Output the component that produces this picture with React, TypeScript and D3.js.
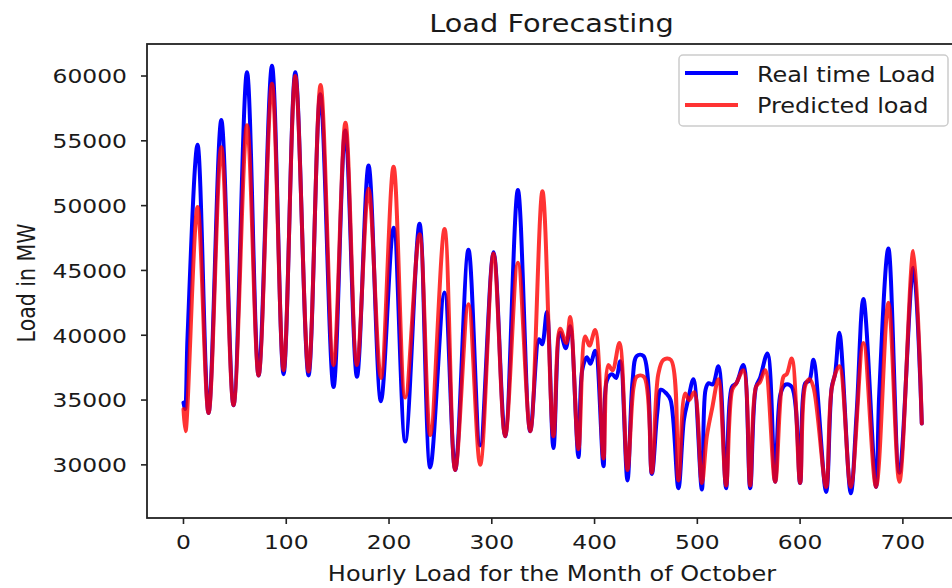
import React from "react";
import * as d3 from "d3";

// ---- Data ----
// [hour, load MW] key points of the real-time load
const realLoadPoints: [number, number][] = [
  [0, 34800], [1.5, 34300], [4, 40000], [13.7, 54700],
  [24.4, 34000], [36.8, 56600],
  [48.7, 34600], [61.8, 60300],
  [73.1, 36900], [86.1, 60800],
  [97.4, 37000], [108.8, 60300],
  [121.7, 36900], [133.1, 58600],
  [146, 36000], [157.4, 55800],
  [168.8, 36800], [180.1, 53100],
  [192.1, 34900], [204.4, 48300],
  [215.8, 31800], [229.7, 48600],
  [240.1, 29800], [254, 43300],
  [264.4, 29600], [277.3, 46600],
  [288.7, 31500], [301.7, 46400],
  [313, 32200], [325.4, 51200],
  [337.4, 32600], [346, 39700], [349, 39300], [353.6, 41800],
  [360, 31300], [366.5, 40200], [372, 39000], [376.3, 40700],
  [384.3, 30600], [388, 37300], [392.5, 38300], [396, 37800], [400.6, 38800],
  [408.7, 29900], [412, 36500], [417, 37000], [421, 36700], [425, 38000],
  [432, 28800], [437, 36500], [441.1, 38400], [447.6, 38400],
  [455.7, 29300], [461, 34000], [464.5, 35800], [470, 35500], [474, 35000],
  [481.6, 28200], [487, 33500], [491, 35000], [496.2, 36600],
  [504.4, 28100], [508, 35800], [511, 36300], [515, 36200], [520.5, 37600],
  [528, 28200], [533.6, 36000], [538, 36300], [544.8, 37700],
  [551.4, 28200], [557, 36000], [561, 36700], [568.2, 38600],
  [575.7, 28700], [581, 35500], [586, 36200], [592, 36000],
  [600, 28600], [604.9, 36300], [609, 36500], [613, 38100],
  [625.3, 27900], [630.8, 36000], [634, 37000], [638.2, 40200],
  [649.3, 27800], [655, 34000], [661.6, 42800],
  [673.9, 28300], [677, 35500], [685.9, 46700],
  [696.6, 29400], [710.2, 45200], [718.4, 33200],
];

// [hour, load MW] key points of the predicted load
const predictedLoadPoints: [number, number][] = [
  [0, 34300], [2, 32600], [13.7, 49900],
  [24.4, 34000], [36.8, 54500],
  [48.7, 34600], [61.8, 56200],
  [73.1, 36900], [86.1, 59400],
  [97.4, 37300], [108.8, 60000],
  [121.7, 37200], [133.4, 59300],
  [146, 37700], [157.6, 56400],
  [168.8, 37700], [180.1, 51300],
  [192.1, 36700], [204.4, 53000],
  [215.8, 35200], [229.7, 47800],
  [240.1, 32300], [254, 48200],
  [264.4, 29600], [277.3, 42400],
  [288.7, 30000], [301.7, 46300],
  [313, 32200], [325.4, 45600],
  [337.4, 32600], [349.3, 51100],
  [360, 32200], [366.5, 40500], [372.4, 39400], [376.3, 41400],
  [384.3, 31200], [390.9, 39900], [395, 39200], [400.6, 40400],
  [408.7, 30500], [413.5, 37700], [417.5, 37300], [424.2, 39400],
  [432, 29600], [438, 36000], [441.1, 36800], [448, 36800],
  [455.7, 29400], [462, 37000], [467, 38100], [474.2, 38100],
  [481.6, 28800], [488.1, 35500], [492, 35000], [497, 35600],
  [504.4, 28600], [509.2, 32200], [514.5, 34400], [520.5, 36600],
  [528, 28400], [534, 35800], [538, 36300], [544.8, 37300],
  [551.4, 28400], [557, 36000], [561, 36400], [566, 37300],
  [575.7, 28700], [583.8, 36800], [587, 37000], [591.9, 38200],
  [600, 28600], [604.9, 36100], [609, 36600], [613, 36000],
  [625.3, 28300], [631, 36000], [638.2, 37600],
  [649.3, 28300], [661.6, 39400],
  [673.9, 28300], [685.9, 42500],
  [696.6, 28700], [710.2, 46500], [718.4, 33200],
];

const xTicks = [0, 100, 200, 300, 400, 500, 600, 700];
const yTicks = [30000, 35000, 40000, 45000, 50000, 55000, 60000];
const seriesNames = ["Real time Load", "Predicted load"];
const titleText = "Load Forecasting";
const xLabelText = "Hourly Load for the Month of October";
const yLabelText = "Load in MW";

// ---- Layout ----
const W = 952;
const H = 588;
const plotLeft = 147;
const plotRight = 959.4;
const plotTop = 44;
const plotBottom = 518;
const FONT = "DejaVu Sans";
const SX = 1.17;
const LW = 4;

export default function App() {
  const x = d3.scaleLinear().domain([-35.5, 755]).range([plotLeft, plotRight]);
  const y = d3.scaleLinear().domain([25900, 62470]).range([plotBottom, plotTop]);

  const line = d3
    .line<[number, number]>()
    .x((d) => x(d[0]))
    .y((d) => y(d[1]))
    .curve(d3.curveCatmullRom.alpha(0.5));

  const txtColor = "#1a1a1a";

  return (
    <svg
      width={W}
      height={H}
      style={{ position: "absolute", left: 0, top: 0, display: "block", background: "#fff" }}
      fontFamily={FONT}
    >
      <rect x={0} y={0} width={W} height={H} fill="#fff" />
      <defs>
        <clipPath id="plotClip">
          <rect x={plotLeft} y={plotTop} width={plotRight - plotLeft} height={plotBottom - plotTop} />
        </clipPath>
      </defs>

      {/* series */}
      <g clipPath="url(#plotClip)" fill="none" strokeLinejoin="round" strokeLinecap="round">
        <path d={line(realLoadPoints) || ""} stroke="#0000ff" strokeWidth={LW} />
        <path d={line(predictedLoadPoints) || ""} stroke="#ff0000" strokeOpacity={0.8} strokeWidth={LW} />
      </g>

      {/* frame */}
      <rect
        x={plotLeft}
        y={plotTop}
        width={plotRight - plotLeft}
        height={plotBottom - plotTop}
        fill="none"
        stroke="#222"
        strokeWidth={1.8}
      />

      {/* x ticks */}
      {xTicks.map((t) => (
        <g key={"xt" + t}>
          <line x1={x(t)} x2={x(t)} y1={plotBottom} y2={plotBottom + 6} stroke="#222" strokeWidth={1.6} />
          <text
            transform={`translate(${x(t)},${548.5}) scale(${SX},1)`}
            textAnchor="middle"
            fontSize={20}
            fill={txtColor}
          >
            {t}
          </text>
        </g>
      ))}

      {/* y ticks */}
      {yTicks.map((t) => (
        <g key={"yt" + t}>
          <line x1={plotLeft - 6} x2={plotLeft} y1={y(t)} y2={y(t)} stroke="#222" strokeWidth={1.6} />
          <text
            transform={`translate(${127},${y(t) + 7.3}) scale(${SX},1)`}
            textAnchor="end"
            fontSize={20}
            fill={txtColor}
          >
            {t}
          </text>
        </g>
      ))}

      {/* title */}
      <text
        transform={`translate(${551.5},${31.5}) scale(1.2,1)`}
        textAnchor="middle"
        fontSize={24}
        fill={txtColor}
      >
        {titleText}
      </text>

      {/* axis labels */}
      <text
        transform={`translate(${552},${580.5}) scale(${SX},1)`}
        textAnchor="middle"
        fontSize={20.5}
        fill={txtColor}
      >
        {xLabelText}
      </text>
      <text
        transform={`translate(${35},${283}) scale(${SX},1) rotate(-90)`}
        textAnchor="middle"
        fontSize={20.5}
        fill={txtColor}
      >
        {yLabelText}
      </text>

      {/* legend */}
      <g>
        <rect x={679} y={55} width={269} height={71} rx={4} fill="#fff" fillOpacity={0.85} stroke="#cccccc" strokeWidth={1.5} />
        <line x1={685} x2={738} y1={73} y2={73} stroke="#0000ff" strokeWidth={LW} />
        <line x1={685} x2={738} y1={105} y2={105} stroke="#ff0000" strokeOpacity={0.8} strokeWidth={LW} />
        <text transform={`translate(757,81.5) scale(${SX},1)`} fontSize={20.5} fill={txtColor}>
          {seriesNames[0]}
        </text>
        <text transform={`translate(757,113) scale(${SX},1)`} fontSize={20.5} fill={txtColor}>
          {seriesNames[1]}
        </text>
      </g>
    </svg>
  );
}
